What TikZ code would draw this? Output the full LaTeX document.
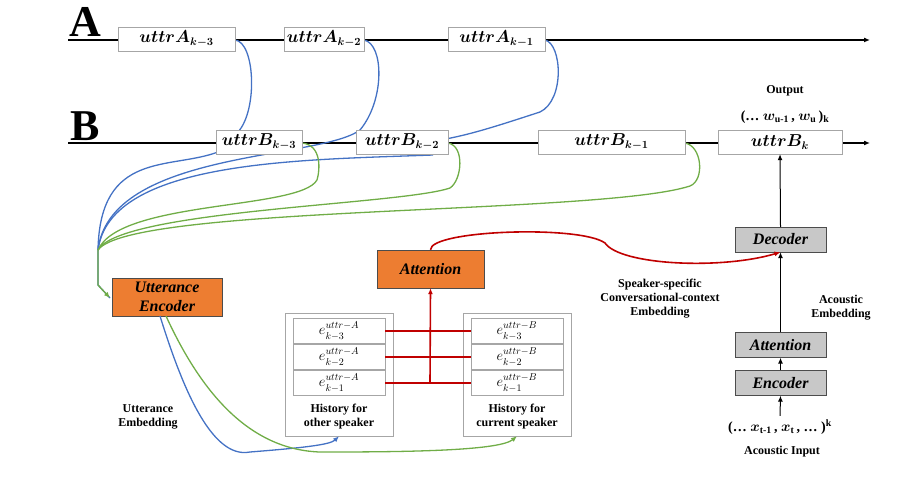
\documentclass[tikz,border=0pt]{standalone}
\usepackage{fontspec}
\setmainfont{Liberation Serif}
\usepackage{amsmath,bm}
\usetikzlibrary{arrows.meta}
\definecolor{cblue}{RGB}{68,114,196}
\definecolor{cgreen}{RGB}{112,173,71}
\definecolor{cred}{RGB}{192,0,0}
\definecolor{corange}{RGB}{237,125,49}
\definecolor{cgray}{RGB}{200,200,200}
\begin{document}
\begin{tikzpicture}[x=1pt,y=-1pt,
 ubox/.style={draw=gray!70,fill=white,minimum height=24pt,inner sep=0pt,font=\fontsize{16}{18}\selectfont},
 obox/.style={draw=gray!60!black,fill=corange,minimum height=38pt,inner sep=0pt,font=\fontsize{16}{19}\selectfont\bfseries\itshape,align=center},
 gbox/.style={draw=gray!60!black,fill=cgray,minimum width=91pt,minimum height=25pt,inner sep=0pt,font=\fontsize{16}{18}\selectfont\bfseries\itshape},
 ebox/.style={draw=gray!70,fill=white,minimum width=92pt,minimum height=25pt,inner sep=0pt,font=\fontsize{14}{14}\selectfont},
 hbox/.style={draw=gray!70,fill=white,minimum width=108pt,minimum height=123pt,inner sep=0pt},
 lbl/.style={font=\fontsize{12}{14}\selectfont\bfseries,align=center},
 bl/.style={cblue,line width=1.3pt},
 gr/.style={cgreen,line width=1.3pt},
 rd/.style={cred,line width=1.6pt},
 ar/.style={-{Latex[length=6pt,width=5pt]}},
 bk/.style={black,line width=1.3pt}]
\useasboundingbox (0,0) rectangle (907,486);
% timelines
\node[font=\fontsize{44}{44}\selectfont\bfseries] (LA) at (85,22) {A};
\node[font=\fontsize{44}{44}\selectfont\bfseries] (LB) at (85,126) {B};
\coordinate (a0) at (68,40); \coordinate (a1) at (870,40);
\coordinate (b0) at (68,143); \coordinate (b1) at (870,143);
\draw[bk,ar] (a0) -- (a1);
\draw[bk,ar] (b0) -- (b1);
\coordinate (cv) at (98,250);
\coordinate (ein) at (110,298);
% blue curves
\draw[bl] (235,40) .. controls (255,42) and (258,110) .. (238,132);
\draw[bl] (364,40) .. controls (384,44) and (385,100) .. (360,130);
\draw[bl] (545,40) .. controls (562,44) and (565,100) .. (540,112) .. controls (500,125) and (470,135) .. (440,140);
\draw[bl] (218,152) .. controls (170,170) and (100,150) .. (cv);
\draw[bl] (360,130) .. controls (320,160) and (110,150) .. (cv);
\draw[bl] (433,155) .. controls (300,160) and (110,160) .. (cv);
\draw[bl] (cv) -- (98,285) -- (ein);
% green curves
\draw[gr] (302,143) .. controls (322,145) and (320,170) .. (317,180) .. controls (300,210) and (120,200) .. (cv);
\draw[gr] (448,143) .. controls (465,146) and (462,180) .. (450,188) .. controls (400,205) and (120,210) .. (cv);
\draw[gr] (685,143) .. controls (702,146) and (705,180) .. (690,186) .. controls (600,215) and (130,205) .. (cv);
\draw[gr,ar] (cv) -- (98,285) -- (ein);
% boxes
\node[ubox,minimum width=117pt] (A3) at (176.5,39) {$\bm{uttrA_{k-3}}$};
\node[ubox,minimum width=80pt] (A2) at (324,39) {$\bm{uttrA_{k-2}}$};
\node[ubox,minimum width=97pt] (A1) at (496.5,39) {$\bm{uttrA_{k-1}}$};
\node[ubox,minimum width=86pt] (B3) at (259,142) {$\bm{uttrB_{k-3}}$};
\node[ubox,minimum width=92pt] (B2) at (402,142) {$\bm{uttrB_{k-2}}$};
\node[ubox,minimum width=147pt] (B1) at (611.5,142) {$\bm{uttrB_{k-1}}$};
\node[ubox,minimum width=124pt] (Bk) at (780,142) {$\bm{uttrB_{k}}$};
\node[lbl] (out) at (785,91) {Output};
\node[lbl,font=\fontsize{14}{16}\selectfont\bfseries] (outw) at (785,117) {(\dots\ $\bm{w}_{\text{u-1}}$\,, $\bm{w}_{\text{u}}$\,)$_{\text{k}}$};
% utterance encoder
\node[obox,minimum width=110pt] (UE) at (167,297) {Utterance\\Encoder};
\node[obox,minimum width=107pt] (AT) at (430.5,269) {Attention};
% histories
\node[hbox] (HL) at (339,374.5) {};
\node[hbox] (HR) at (517,374.5) {};
\node[ebox] (LA3) at (339,331) {$e_{k-3}^{uttr-A}$};
\node[ebox] (LA2) at (339,357) {$e_{k-2}^{uttr-A}$};
\node[ebox] (LA1) at (339,383) {$e_{k-1}^{uttr-A}$};
\node[ebox] (RB3) at (517,331) {$e_{k-3}^{uttr-B}$};
\node[ebox] (RB2) at (517,357) {$e_{k-2}^{uttr-B}$};
\node[ebox] (RB1) at (517,383) {$e_{k-1}^{uttr-B}$};
\node[lbl] (HLt) at (339,417) {History for\\other speaker};
\node[lbl] (HRt) at (517,417) {History for\\current speaker};
\draw[rd] (LA3.east) -- (RB3.west);
\draw[rd] (LA2.east) -- (RB2.west);
\draw[rd] (LA1.east) -- (RB1.west);
\coordinate (rv) at (430,383);
\draw[rd,ar] (rv) -- (AT.south);
% right column
\node[gbox] (DEC) at (780.5,239.5) {Decoder};
\node[gbox] (ATT2) at (780.5,345) {Attention};
\node[gbox] (ENC) at (780.5,383) {Encoder};
\node[lbl,font=\fontsize{14}{16}\selectfont\bfseries] (xin) at (780,427) {(\dots\ $\bm{x}_{\text{t-1}}$\,, $\bm{x}_{\text{t}}$\,, \dots\ )$^{\text{k}}$};
\node[lbl] (ainl) at (782,452) {Acoustic Input};
\draw[bk,ar,line width=1pt] (xin.north) -- (ENC.south);
\draw[bk,ar,line width=1pt] (ENC.north) -- (ATT2.south);
\draw[bk,ar,line width=1pt] (ATT2.north) -- (DEC.south);
\draw[bk,ar,line width=1pt] (DEC.north) -- (Bk.south);
\node[lbl] (aeml) at (841,308) {Acoustic\\Embedding};
\node[lbl] (sscl) at (660,299) {Speaker-specific\\Conversational-context\\Embedding};
\node[lbl] (ueml) at (148,417) {Utterance\\Embedding};
% red context curve
\draw[rd,ar] (AT.north) .. controls (430,230) and (580,225) .. (605,243) .. controls (620,265) and (720,270) .. (DEC.south);
% encoder outputs
\draw[bl,ar] (160,316) .. controls (180,380) and (210,460) .. (250,452) .. controls (300,448) and (330,445) .. (HL.south);
\draw[gr,ar] (166,316) .. controls (200,390) and (250,455) .. (330,452) .. controls (420,452) and (500,450) .. (HR.south);
\end{tikzpicture}
\end{document}
